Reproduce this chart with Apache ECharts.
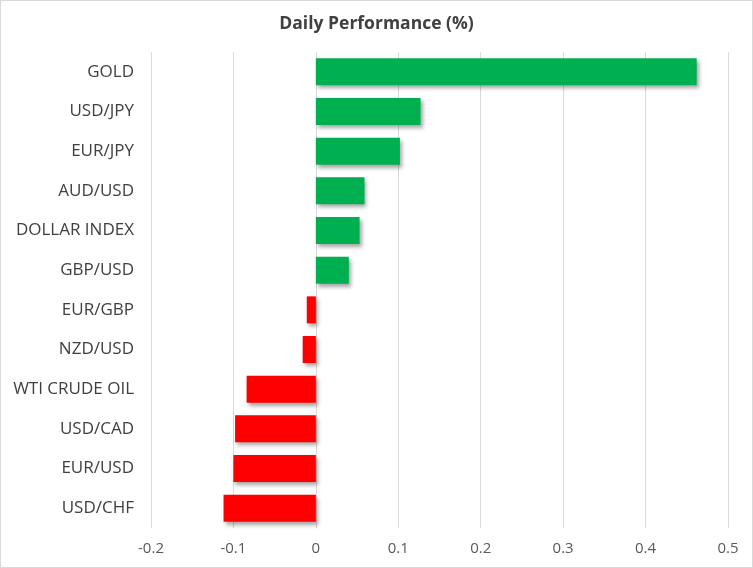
<!DOCTYPE html>
<html>
<head>
<meta charset="utf-8">
<script src="https://cdn.jsdelivr.net/npm/echarts@6/dist/echarts.min.js"></script>
<style>
html,body{margin:0;padding:0;background:#fff;}
#wrap{position:absolute;left:0;top:0;width:751px;height:566px;border:1px solid #d9d9d9;}
#c{width:751px;height:566px;}
</style>
</head>
<body>
<div id="wrap"><div id="c"></div></div>
<script>
const categories = ["GOLD","USD/JPY","EUR/JPY","AUD/USD","DOLLAR INDEX","GBP/USD","EUR/GBP","NZD/USD","WTI CRUDE OIL","USD/CAD","EUR/USD","USD/CHF"];
const values = [0.462, 0.127, 0.102, 0.059, 0.053, 0.040, -0.011, -0.016, -0.084, -0.098, -0.100, -0.112];
const xTicks = [-0.2, -0.1, 0, 0.1, 0.2, 0.3, 0.4, 0.5];
const posColor = "#00B050", negColor = "#FF0000";

const chart = echarts.init(document.getElementById('c'));
chart.setOption({
  animation: false,
  title: {
    text: "Daily Performance (%)",
    left: 'center', top: 9,
    textStyle: {fontFamily: "Open Sans", fontSize: 17.5, fontWeight: 'bold', color: '#404040'}
  },
  grid: {left: 150, right: 24, top: 51, bottom: 39, containLabel: false},
  xAxis: {
    type: 'value', min: xTicks[0], max: xTicks[xTicks.length-1], interval: 0.1,
    axisLine: {show: false}, axisTick: {show: false},
    splitLine: {show: true, lineStyle: {color: '#d9d9d9', width: 1}},
    axisLabel: {fontFamily: "Open Sans", fontSize: 15, color: '#595959', margin: 13,
      formatter: v => { const r = Math.round(v*10)/10; return r === 0 ? '0' : String(r); }}
  },
  yAxis: {
    type: 'category', data: categories, inverse: true,
    axisLine: {show: false}, axisTick: {show: false}, splitLine: {show: false},
    axisLabel: {fontFamily: "Open Sans", fontSize: 17, color: '#404040', margin: 17}
  },
  series: [{
    type: 'bar',
    data: values,
    barCategoryGap: '32%',
    itemStyle: {
      color: p => p.value >= 0 ? posColor : negColor,
      shadowColor: 'rgba(0,0,0,0.35)', shadowBlur: 4, shadowOffsetX: 2, shadowOffsetY: 3
    }
  }]
});
</script>
</body>
</html>
